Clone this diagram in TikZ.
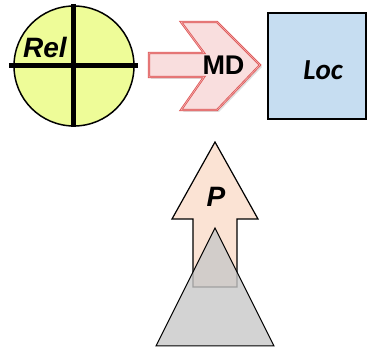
\documentclass[tikz,border=0pt]{standalone}
\usepackage{fontspec}
\setmainfont{Liberation Sans}
\newfontfamily\locfont{Carlito}
\usetikzlibrary{shadows}
\definecolor{relfill}{RGB}{238,252,152}
\definecolor{locfill}{RGB}{198,221,241}
\definecolor{mdfill}{RGB}{249,222,222}
\definecolor{mdline}{RGB}{222,86,86}
\definecolor{mdgap}{RGB}{244,178,178}
\definecolor{pfill}{RGB}{251,227,212}
\definecolor{basefill}{RGB}{200,200,200}
\begin{document}
\begin{tikzpicture}[x=1pt,y=-1pt,lbl/.style={inner sep=0pt,font=\fontsize{28}{28}\selectfont\bfseries\itshape},bar/.style={line width=5pt,black},chev/.style={draw=mdline,line width=0.8pt,double=mdgap,double distance=0.6pt,fill=mdfill,drop shadow={opacity=0.25,shadow xshift=2pt,shadow yshift=-2pt}},uparr/.style={draw=black,line width=1.2pt,fill=pfill,line join=miter},tri/.style={draw=black,line width=1pt,fill=basefill,fill opacity=0.8}]
\useasboundingbox (0,0) rectangle (368,350);
\def\cx{74};
\def\cy{66};

\node[circle,draw=black,line width=1.5pt,fill=relfill,minimum size=120pt,inner sep=0pt] (rel) at (\cx,\cy) {};
\draw[bar] (\cx-65,\cy-0.5) -- (\cx+64,\cy-0.5);
\draw[bar] (\cx,\cy-62) -- (\cx,\cy+61);
\node[lbl] (reltxt) at (45,47) {Rel};

\draw[chev] (149,53) -- (204,53) -- (181,22) -- (217,22) -- (260,65) -- (217,110) -- (181,110) -- (204,77) -- (149,77) -- cycle;
\node[lbl,font=\fontsize{27}{27}\selectfont\bfseries] (md) at (223.5,65) {MD};

\node[draw=black,line width=1.5pt,fill=locfill,minimum width=98pt,minimum height=106pt,inner sep=0pt] (loc) at (317,66) {};
\node[lbl,font=\fontsize{29}{29}\selectfont\locfont\bfseries\itshape] (loctxt) at (323,70) {Loc};

\draw[uparr] (215,142) -- (258,219) -- (237,219) -- (237,287) -- (193,287) -- (193,219) -- (172,219) -- cycle;
\node[lbl] (p) at (216,197) {P};

\draw[tri] (215,228) -- (274,346) -- (156,346) -- cycle;
\end{tikzpicture}
\end{document}
